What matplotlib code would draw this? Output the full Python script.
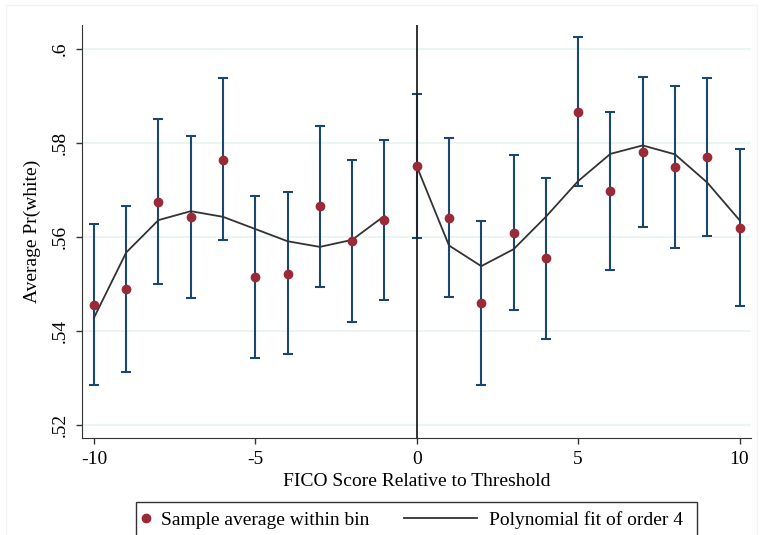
import matplotlib
matplotlib.use("Agg")
import matplotlib.pyplot as plt
from matplotlib.lines import Line2D
from matplotlib.patches import Rectangle
import numpy as np

# bins relative to threshold
bins = [-10, -9, -8, -7, -6, -5, -4, -3, -2, -1, 0, 1, 2, 3, 4, 5, 6, 7, 8, 9, 10]
means = [0.5455, 0.5489, 0.5674, 0.5642, 0.5765, 0.5515, 0.5522, 0.5665, 0.5592, 0.5636,
         0.5751, 0.5641, 0.5460, 0.5609, 0.5555, 0.5867, 0.5699, 0.5781, 0.5750, 0.5770, 0.5620]
ci_hi = [0.5627, 0.5665, 0.5851, 0.5815, 0.5939, 0.5687, 0.5695, 0.5836, 0.5764, 0.5806,
         0.5904, 0.5810, 0.5635, 0.5774, 0.5726, 0.6025, 0.5867, 0.5940, 0.5921, 0.5938, 0.5787]
ci_lo = [0.5284, 0.5312, 0.5499, 0.5470, 0.5594, 0.5343, 0.5350, 0.5493, 0.5419, 0.5465,
         0.5598, 0.5473, 0.5286, 0.5444, 0.5384, 0.5709, 0.5530, 0.5622, 0.5577, 0.5602, 0.5453]

# polynomial fit, separately on each side
fit_left_x = [-10, -9, -8, -7, -6, -5, -4, -3, -2, -1]
fit_left = [0.5428, 0.5567, 0.5636, 0.5655, 0.5643, 0.5617, 0.5591, 0.5579, 0.5594, 0.5645]
fit_right_x = [0, 1, 2, 3, 4, 5, 6, 7, 8, 9, 10]
fit_right = [0.5751, 0.5582, 0.5538, 0.5574, 0.5643, 0.5719, 0.5777, 0.5795, 0.5776, 0.5716, 0.5636]

yticks = [0.52, 0.54, 0.56, 0.58, 0.6]
ytick_labels = [".52", ".54", ".56", ".58", ".6"]
xticks = [-10, -5, 0, 5, 10]

plt.rcParams['font.family'] = ['Liberation Serif', 'DejaVu Serif']
plt.rcParams['axes.unicode_minus'] = False

fig = plt.figure(figsize=(7.66, 5.35), dpi=100)
ax = fig.add_axes([0.107, 0.182, 0.874, 0.771])

blue = '#1a476f'
maroon = '#9a2a35'
fitcol = '#333333'

m = np.array(means)
err = [m - np.array(ci_lo), np.array(ci_hi) - m]
ax.errorbar(bins, means, yerr=err, fmt='none', ecolor=blue, elinewidth=1.5,
            capsize=3.6, capthick=1.5, zorder=2)
ax.plot(fit_left_x, fit_left, color=fitcol, lw=1.3, zorder=3)
ax.plot(fit_right_x, fit_right, color=fitcol, lw=1.3, zorder=3)
ax.plot(bins, means, 'o', color=maroon, ms=6, zorder=4)
ax.axvline(0, color='#222222', lw=1.3, zorder=3)

ax.set_xlim(-10.37, 10.37)
ax.set_ylim(0.5173, 0.6051)
ax.set_yticks(yticks)
ax.set_yticklabels(ytick_labels, rotation=90, va='center')
ax.set_xticks(xticks)
ax.tick_params(labelsize=14, length=4.5, width=1, color='#333333', pad=5)
for yv in yticks:
    ax.axhline(yv, color='#eaf3f1', lw=1.2, zorder=0)

ax.spines['top'].set_visible(False)
ax.spines['right'].set_visible(False)
ax.spines['left'].set_color('#333333')
ax.spines['bottom'].set_color('#333333')

ax.set_xlabel('FICO Score Relative to Threshold', fontsize=14, labelpad=4)
ax.set_ylabel('Average Pr(white)', fontsize=14, labelpad=8)

# legend: two pieces inside one frame
ly = 1 - 520 / 535
leg1 = fig.legend([Line2D([], [], ls='none', marker='o', color=maroon, ms=6)],
                  ['Sample average within bin'], loc='center left',
                  bbox_to_anchor=(140 / 766, ly), borderaxespad=0, borderpad=0,
                  frameon=False, fontsize=14, handlelength=0.6, handletextpad=0.5)
leg2 = fig.legend([Line2D([], [], color=fitcol, lw=1.3)],
                  ['Polynomial fit of order 4'], loc='center left',
                  bbox_to_anchor=(404 / 766, ly), borderaxespad=0, borderpad=0,
                  frameon=False, fontsize=14, handlelength=3.75, handletextpad=0.6)
fig.add_artist(Rectangle((136 / 766, -0.05), 561 / 766, 0.05 + 1 - 501.7 / 535,
                         transform=fig.transFigure, fill=False,
                         edgecolor='#333333', lw=1.0))

# faint outer border of the graph region
fig.add_artist(Rectangle((6 / 766, -0.05), 751 / 766, 0.05 + 1 - 5 / 535,
                         transform=fig.transFigure, fill=False,
                         edgecolor='#f2f4f4', lw=1.0, zorder=0))

fig.savefig('out.png', dpi=100)
